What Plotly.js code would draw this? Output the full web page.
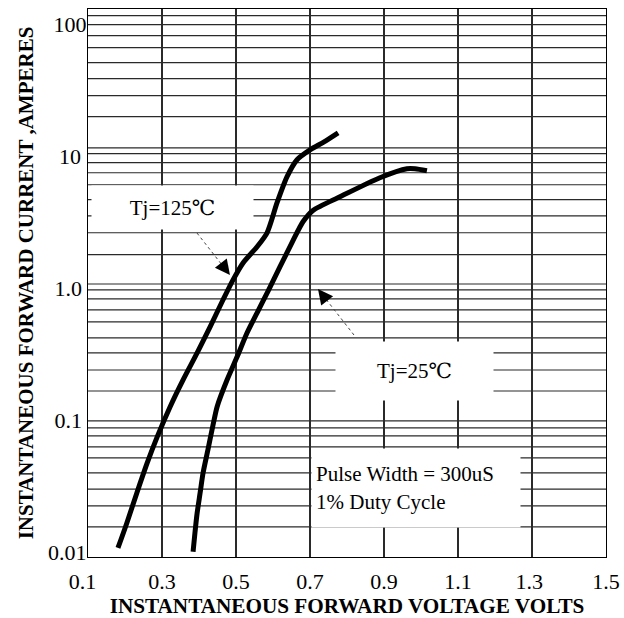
<!DOCTYPE html>
<html><head><meta charset="utf-8">
<script src="https://cdn.plot.ly/plotly-3.0.1.min.js"></script>
<style>html,body{margin:0;padding:0;background:#fff}#chart{width:624px;height:618px}</style>
</head><body><div id="chart"></div>
<script>
// Forward voltage (V) vs instantaneous forward current (A)
const voltage125 = [0.181, 0.205, 0.232, 0.260, 0.287, 0.322, 0.357, 0.395, 0.430, 0.465, 0.492, 0.519, 0.557, 0.584, 0.611, 0.638, 0.665, 0.700, 0.738, 0.776];
const current125 = [0.0108, 0.0167, 0.0282, 0.0476, 0.0750, 0.127, 0.203, 0.325, 0.512, 0.820, 1.16, 1.56, 2.07, 2.64, 4.46, 7.02, 9.44, 11.2, 12.9, 15.1];
const voltage25 = [0.384, 0.389, 0.395, 0.403, 0.411, 0.424, 0.438, 0.449, 0.476, 0.503, 0.530, 0.557, 0.587, 0.619, 0.654, 0.681, 0.708, 0.781, 0.889, 0.962, 0.984, 1.016];
const current25 = [0.0101, 0.0140, 0.0199, 0.0282, 0.0400, 0.0597, 0.0925, 0.127, 0.203, 0.303, 0.461, 0.653, 0.959, 1.46, 2.30, 3.20, 3.90, 4.95, 6.90, 8.07, 8.07, 7.79];
const seriesNames = ['Tj=125\u2103', 'Tj=25\u2103'];

const xTickVals = [0.1, 0.3, 0.5, 0.7, 0.9, 1.1, 1.3, 1.5];
const xTickText = ['0.1\u00a0\u00a0', '0.3', '0.5', '0.7', '0.9', '1.1', '1.3\u00a0', '1.5'];
const yTickVals = [0.01, 0.1, 1, 10, 100];
const yTickText = ['0.01', '0.1\u2009', '1.0\u2009', '10\u00a0', '100'];
// horizontal chart-paper rulings (amperes)
const yGridVals = [116.6, 99.7, 82.3, 66.7, 51.3, 38.8, 28.9, 20.0, 11.6, 10.5, 8.96, 7.52, 6.10, 4.70, 3.55, 2.64, 1.80, 1.08, 0.976, 0.834, 0.688, 0.558, 0.422, 0.325, 0.241, 0.167, 0.0991, 0.0877, 0.0763, 0.0630, 0.0520, 0.0400, 0.0302, 0.0225, 0.0156];

const xTitle = 'INSTANTANEOUS FORWARD VOLTAGE VOLTS';
const yTitle = 'INSTANTANEOUS FORWARD CURRENT ,AMPERES';
const noteText = 'Pulse Width = 300uS<br>1% Duty Cycle';

const serif = '"Liberation Serif", "Times New Roman", "DejaVu Serif", serif';
const lineStyle = {color: '#000', width: 5, shape: 'spline', smoothing: 0.7};

const traces = [
  {x: voltage125, y: current125, name: seriesNames[0], mode: 'lines', line: lineStyle, showlegend: false, hoverinfo: 'x+y'},
  {x: voltage25, y: current25, name: seriesNames[1], mode: 'lines', line: lineStyle, showlegend: false, hoverinfo: 'x+y'}
];

const shapes = yGridVals.map(v => ({
  type: 'line', xref: 'paper', x0: 0, x1: 1, yref: 'y', y0: v, y1: v,
  line: {color: '#2a2a2a', width: 1.2}, layer: 'below'
}));
// dotted leader lines
shapes.push({type: 'line', xref: 'paper', yref: 'paper', x0: 0.2104, y0: 0.5912, x1: 0.2573, y1: 0.5347, line: {color: '#444', width: 1, dash: 'dot'}});
shapes.push({type: 'line', xref: 'paper', yref: 'paper', x0: 0.5135, y0: 0.4051, x1: 0.4606, y1: 0.4690, line: {color: '#444', width: 1, dash: 'dot'}});

const boxFont = {family: serif, size: 21, color: '#000'};
const annotations = [
  {xref: 'paper', yref: 'paper', x: 0.1631, y: 0.6378, xanchor: 'center', yanchor: 'middle', text: seriesNames[0], showarrow: false, bgcolor: '#fff', width: 161, height: 43, borderpad: 0, font: boxFont},
  {xref: 'paper', yref: 'paper', x: 0.6303, y: 0.3394, xanchor: 'center', yanchor: 'middle', text: seriesNames[1], showarrow: false, bgcolor: '#fff', width: 157, height: 58, borderpad: 0, font: boxFont},
  {xref: 'paper', yref: 'paper', x: 0.6332, y: 0.1259, xanchor: 'center', yanchor: 'middle', text: noteText, align: 'left', showarrow: false, bgcolor: '#fff', width: 200, height: 70, borderpad: 4, font: boxFont},
  {xref: 'paper', yref: 'paper', x: 0.2741, y: 0.5146, text: '', showarrow: true, arrowhead: 2, arrowsize: 3, arrowwidth: 1, arrowcolor: '#000', ax: -10, ay: -13},
  {xref: 'paper', yref: 'paper', x: 0.4440, y: 0.4891, text: '', showarrow: true, arrowhead: 2, arrowsize: 3, arrowwidth: 1, arrowcolor: '#000', ax: 10, ay: 13}
];

const layout = {
  width: 624, height: 618,
  margin: {l: 88, r: 18, t: 9, b: 61},
  paper_bgcolor: '#fff', plot_bgcolor: '#fff',
  font: {family: serif, color: '#000'},
  xaxis: {
    type: 'linear', range: [0.1, 1.5], tickvals: xTickVals, ticktext: xTickText,
    showgrid: true, gridcolor: '#2a2a2a', gridwidth: 1.2, zeroline: false,
    showline: true, linecolor: '#000', linewidth: 1.2, mirror: true, ticks: '',
    ticklabelstandoff: 4,
    tickfont: {family: serif, size: 22, color: '#000'},
    title: {text: xTitle, font: {family: serif, size: 21.2, color: '#000', weight: 'bold'}, standoff: 9}
  },
  yaxis: {
    type: 'log', range: [-2.035, 2.117], tickvals: yTickVals, ticktext: yTickText,
    showgrid: false, zeroline: false,
    showline: true, linecolor: '#000', linewidth: 1.2, mirror: true, ticks: '',
    ticklabelstandoff: -4,
    tickfont: {family: serif, size: 22, color: '#000'},
    title: {text: yTitle, font: {family: serif, size: 21, color: '#000', weight: 'bold'}, standoff: 8}
  },
  shapes: shapes,
  annotations: annotations
};

Plotly.newPlot('chart', traces, layout, {displayModeBar: false, staticPlot: true});
</script>
</body></html>
